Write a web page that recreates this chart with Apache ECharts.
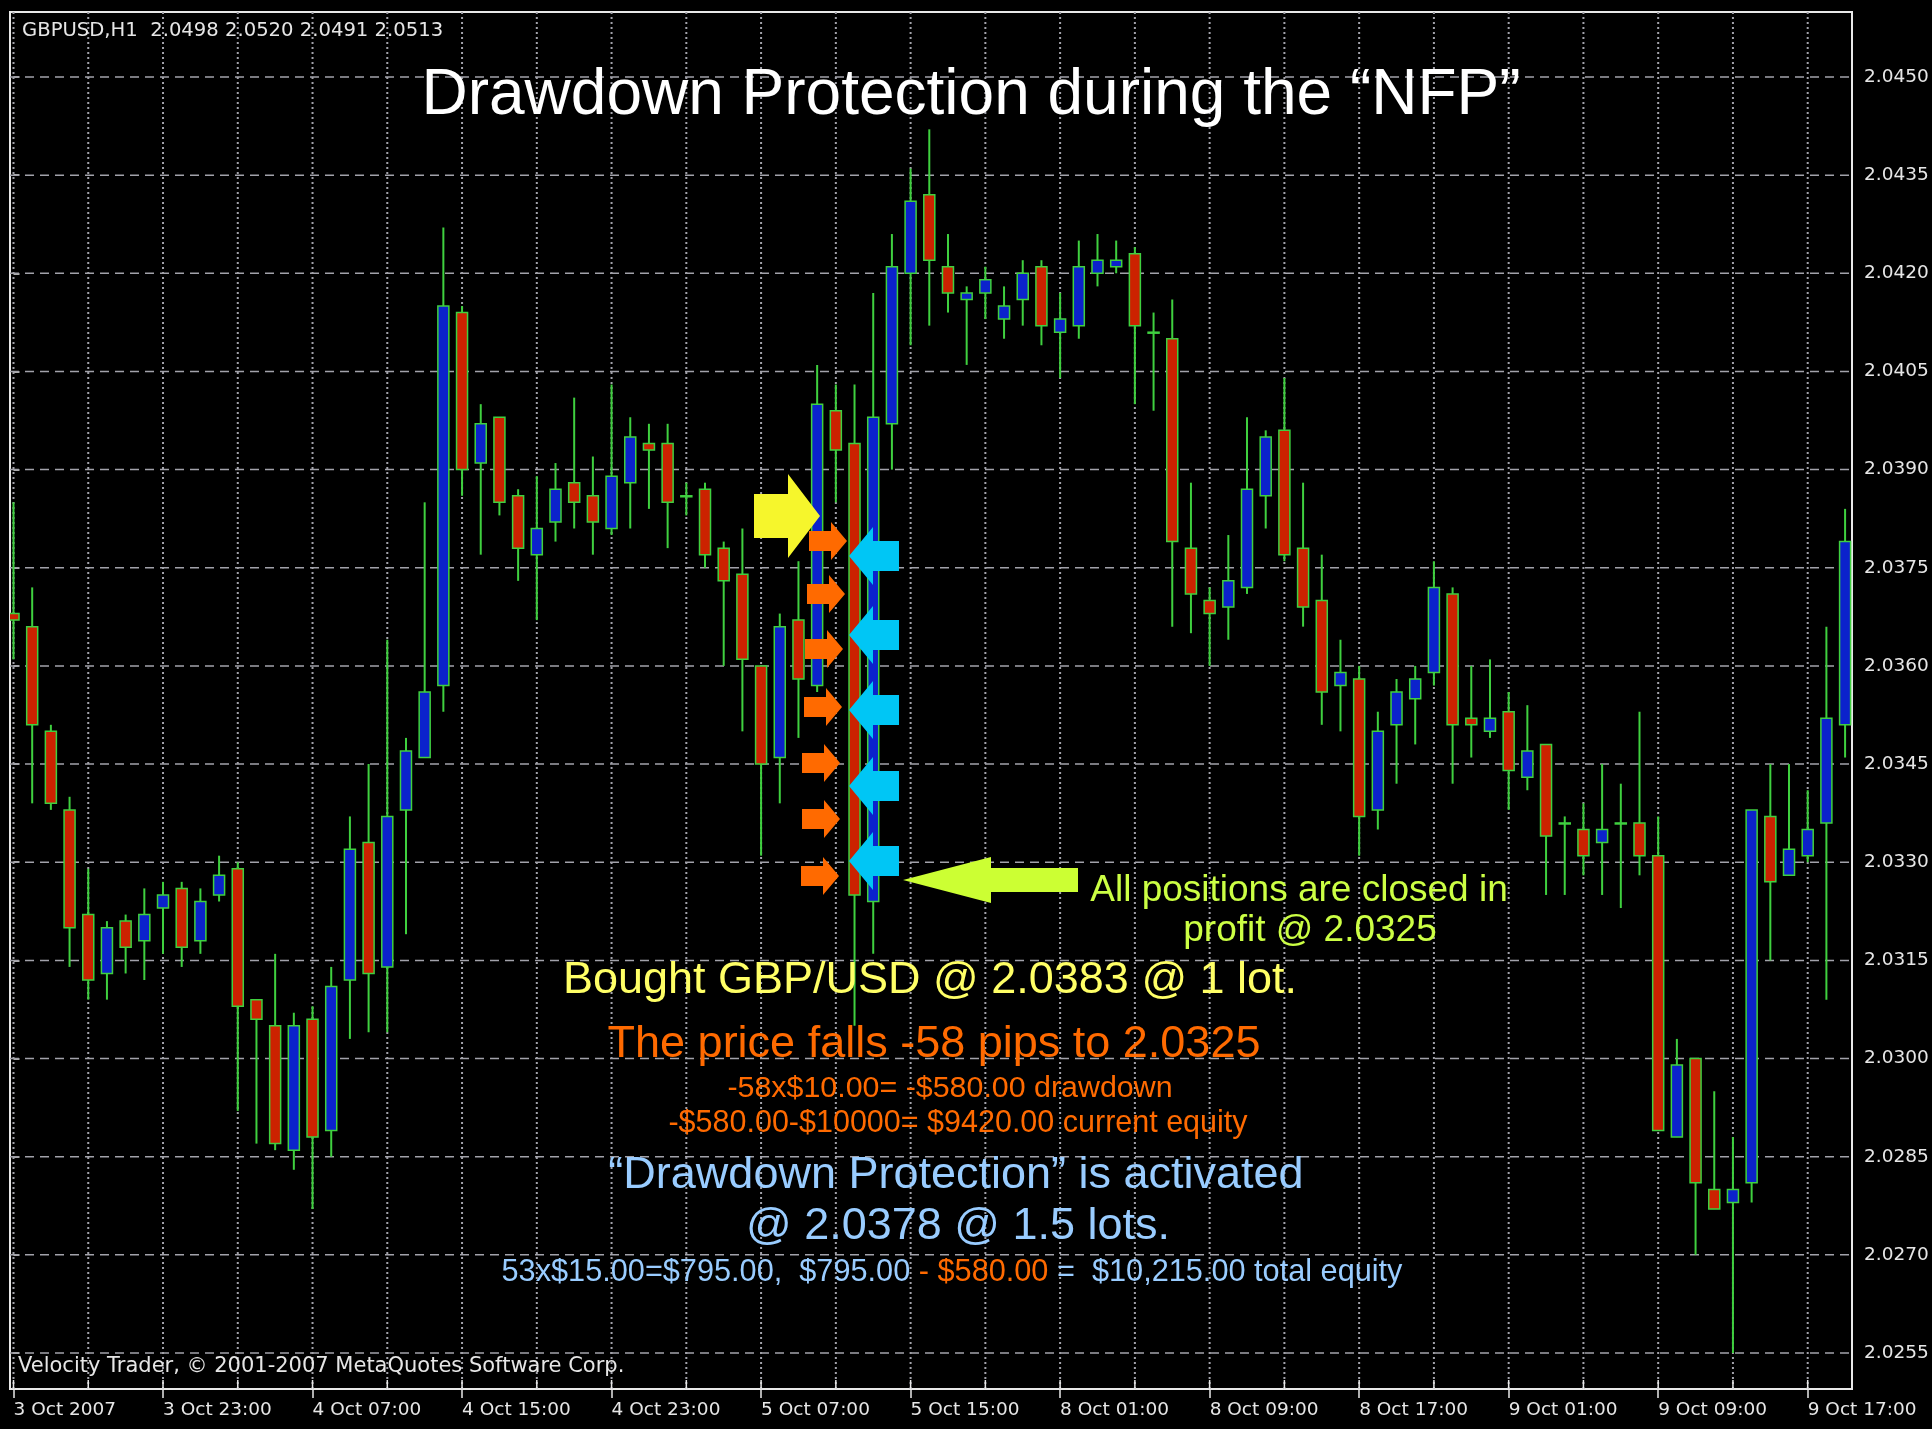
<!DOCTYPE html>
<html><head><meta charset="utf-8">
<script src="https://cdn.jsdelivr.net/npm/echarts@6/dist/echarts.min.js"></script>
<style>html,body{margin:0;padding:0;background:#000;}#c{width:1932px;height:1429px;}</style>
</head><body><div id="c"></div>
<script>
// GBPUSD H1 candles, 3 Oct 2007 15:00 onward
const opens  = [2.0368,2.0366,2.0350,2.0338,2.0322,2.0313,2.0321,2.0318,2.0323,2.0326,
                2.0318,2.0325,2.0329,2.0309,2.0305,2.0286,2.0306,2.0289,2.0312,2.0333,
                2.0314,2.0338,2.0346,2.0357,2.0414,2.0391,2.0398,2.0386,2.0377,2.0382,
                2.0388,2.0386,2.0381,2.0388,2.0394,2.0394,2.0386,2.0387,2.0378,2.0374,
                2.0360,2.0346,2.0367,2.0357,2.0399,2.0394,2.0324,2.0397,2.0420,2.0432,
                2.0421,2.0416,2.0417,2.0413,2.0416,2.0421,2.0411,2.0412,2.0420,2.0421,
                2.0423,2.0411,2.0410,2.0378,2.0370,2.0369,2.0372,2.0386,2.0396,2.0378,
                2.0370,2.0357,2.0358,2.0338,2.0351,2.0355,2.0359,2.0371,2.0352,2.0350,
                2.0353,2.0343,2.0348,2.0336,2.0335,2.0333,2.0336,2.0336,2.0331,2.0288,
                2.0300,2.0280,2.0278,2.0281,2.0337,2.0328,2.0331,2.0336,2.0351];
const highs  = [2.0385,2.0372,2.0351,2.0340,2.0329,2.0321,2.0322,2.0326,2.0327,2.0327,
                2.0326,2.0331,2.0330,2.0309,2.0316,2.0307,2.0308,2.0314,2.0337,2.0345,
                2.0364,2.0349,2.0385,2.0427,2.0415,2.0400,2.0398,2.0387,2.0389,2.0391,
                2.0401,2.0392,2.0403,2.0398,2.0397,2.0397,2.0388,2.0388,2.0379,2.0381,
                2.0360,2.0368,2.0376,2.0406,2.0403,2.0403,2.0417,2.0426,2.0436,2.0442,
                2.0426,2.0418,2.0421,2.0418,2.0422,2.0422,2.0417,2.0425,2.0426,2.0425,
                2.0424,2.0414,2.0416,2.0388,2.0372,2.0380,2.0398,2.0396,2.0404,2.0388,
                2.0377,2.0364,2.0360,2.0353,2.0358,2.0360,2.0376,2.0372,2.0360,2.0361,
                2.0356,2.0354,2.0348,2.0337,2.0339,2.0345,2.0342,2.0353,2.0337,2.0303,
                2.0300,2.0295,2.0288,2.0338,2.0345,2.0345,2.0341,2.0366,2.0384];
const lows   = [2.0361,2.0339,2.0338,2.0314,2.0309,2.0309,2.0313,2.0312,2.0316,2.0314,
                2.0316,2.0324,2.0292,2.0287,2.0286,2.0283,2.0277,2.0285,2.0303,2.0304,
                2.0304,2.0319,2.0346,2.0353,2.0386,2.0377,2.0383,2.0373,2.0367,2.0379,
                2.0381,2.0377,2.0380,2.0381,2.0384,2.0378,2.0383,2.0375,2.0360,2.0350,
                2.0331,2.0339,2.0349,2.0356,2.0385,2.0305,2.0316,2.0390,2.0409,2.0412,
                2.0414,2.0406,2.0413,2.0410,2.0412,2.0409,2.0404,2.0410,2.0418,2.0420,
                2.0400,2.0399,2.0366,2.0365,2.0360,2.0364,2.0371,2.0381,2.0376,2.0366,
                2.0351,2.0350,2.0331,2.0335,2.0342,2.0348,2.0357,2.0342,2.0346,2.0349,
                2.0338,2.0341,2.0325,2.0325,2.0328,2.0325,2.0323,2.0328,2.0289,2.0288,
                2.0270,2.0277,2.0255,2.0278,2.0315,2.0328,2.0330,2.0309,2.0346];
const closes = [2.0367,2.0351,2.0339,2.0320,2.0312,2.0320,2.0317,2.0322,2.0325,2.0317,
                2.0324,2.0328,2.0308,2.0306,2.0287,2.0305,2.0288,2.0311,2.0332,2.0313,
                2.0337,2.0347,2.0356,2.0415,2.0390,2.0397,2.0385,2.0378,2.0381,2.0387,
                2.0385,2.0382,2.0389,2.0395,2.0393,2.0385,2.0386,2.0377,2.0373,2.0361,
                2.0345,2.0366,2.0358,2.0400,2.0393,2.0325,2.0398,2.0421,2.0431,2.0422,
                2.0417,2.0417,2.0419,2.0415,2.0420,2.0412,2.0413,2.0421,2.0422,2.0422,
                2.0412,2.0411,2.0379,2.0371,2.0368,2.0373,2.0387,2.0395,2.0377,2.0369,
                2.0356,2.0359,2.0337,2.0350,2.0356,2.0358,2.0372,2.0351,2.0351,2.0352,
                2.0344,2.0347,2.0334,2.0336,2.0331,2.0335,2.0336,2.0331,2.0289,2.0299,
                2.0281,2.0277,2.0280,2.0338,2.0327,2.0332,2.0335,2.0352,2.0379];

// time-axis tick labels (one every 8 bars)
const xTickLabels = ['3 Oct 2007','3 Oct 23:00','4 Oct 07:00','4 Oct 15:00','4 Oct 23:00',
                     '5 Oct 07:00','5 Oct 15:00','8 Oct 01:00','8 Oct 09:00','8 Oct 17:00',
                     '9 Oct 01:00','9 Oct 09:00','9 Oct 17:00'];
const barsPerLabel = 8;
const barsPerGridLine = 4;
// price-axis tick labels
const yTicks = [2.0255,2.0270,2.0285,2.0300,2.0315,2.0330,2.0345,2.0360,2.0375,2.0390,2.0405,2.0420,2.0435,2.0450];

const candleData = opens.map((o, i) => [i, o, closes[i], lows[i], highs[i]]);
const xTickValues = xTickLabels.map((_, k) => k * barsPerLabel);
const vGridData = [];
for (let v = 0; v < opens.length; v += barsPerGridLine) vGridData.push([v, yTicks[0]]);
const hGridData = yTicks.map(v => [0, v]);

const MT = '"DejaVu Sans", sans-serif';
const HV = '"Liberation Sans", Arial, sans-serif';
const GREEN = '#3fd03f';
const GRIDC = '#a2a2aa';

function arrow(tipX, tipY, dir, total, head, bh, hh, fill) {
  const base = tipX - dir * head, tail = tipX - dir * total;
  return {type: 'polygon', z: 50, silent: true,
    shape: {points: [[tail, tipY - bh], [base, tipY - bh], [base, tipY - hh], [tipX, tipY],
                     [base, tipY + hh], [base, tipY + bh], [tail, tipY + bh]]},
    style: {fill: fill}};
}
function txt(x, y, text, color, font, align) {
  return {type: 'text', z: 60, silent: true, x: x, y: y,
    style: {text: text, fill: color, font: font, align: align || 'center', verticalAlign: 'middle'}};
}

const graphics = [];
graphics.push(arrow(820, 516, 1, 66, 32, 22, 42, '#f6f62c'));
const oTipX = [847, 845, 843, 842, 840, 840, 839];
const oTipY = [541, 594, 649, 707, 763, 819, 876];
oTipX.forEach((x, k) => graphics.push(arrow(x, oTipY[k], 1, 38, 16, 10, 19, '#ff6a00')));
[556, 635, 710, 786, 861].forEach(y => graphics.push(arrow(849, y, -1, 50, 24, 15, 29, '#00c6f5')));
graphics.push(arrow(903, 880, -1, 175, 88, 12, 23, '#ccff33'));

const dy = 4;
graphics.push(txt(22, 31, 'GBPUSD,H1  2.0498 2.0520 2.0491 2.0513', '#e6e6e6', '19.6px ' + MT, 'left'));
graphics.push(txt(18, 1367, 'Velocity Trader, \u00a9 2001-2007 MetaQuotes Software Corp.', '#e6e6e6', '21px ' + MT, 'left'));
graphics.push(txt(971, 92 + dy, 'Drawdown Protection during the \u201cNFP\u201d', '#ffffff', '64px ' + HV));
graphics.push(txt(1299, 887 + dy, 'All positions are closed in', '#ccff44', '37px ' + HV));
graphics.push(txt(1310, 927 + dy, 'profit @ 2.0325', '#ccff44', '37px ' + HV));
graphics.push(txt(930, 977 + dy, 'Bought GBP/USD @ 2.0383 @ 1 lot.', '#ffff66', '45px ' + HV));
graphics.push(txt(934, 1041 + dy, 'The price falls -58 pips to 2.0325', '#ff6a00', '45px ' + HV));
graphics.push(txt(950, 1085 + dy, '-58x$10.00= -$580.00 drawdown', '#ff6a00', '30.4px ' + HV));
graphics.push(txt(958, 1120 + dy, '-$580.00-$10000= $9420.00 current equity', '#ff6a00', '30.5px ' + HV));
graphics.push(txt(956, 1172 + dy, '\u201cDrawdown Protection\u201d is activated', '#99ccff', '45px ' + HV));
graphics.push(txt(958, 1223 + dy, '@ 2.0378 @ 1.5 lots.', '#99ccff', '45px ' + HV));
graphics.push({type: 'text', z: 60, silent: true, x: 952, y: 1269 + dy,
  style: {text: '{b|53x$15.00=$795.00,  $795.00}{o| - $580.00}{b| =  $10,215.00 total equity}',
    align: 'center', verticalAlign: 'middle', font: '30.7px ' + HV, fill: '#99ccff',
    rich: {b: {fill: '#99ccff', font: '30.7px ' + HV}, o: {fill: '#ff6a00', font: '30.7px ' + HV}}}});

const chart = echarts.init(document.getElementById('c'), null, {renderer: 'canvas'});
chart.setOption({
  backgroundColor: '#000000',
  animation: false,
  grid: {left: 10, top: 12, right: 80, bottom: 40, show: true, borderColor: '#e8e8e8', borderWidth: 2, backgroundColor: '#000'},
  xAxis: {
    type: 'value', min: -0.187, max: 98.37,
    axisLine: {show: false},
    splitLine: {show: false},
    axisTick: {show: true, customValues: xTickValues, length: 9, lineStyle: {color: '#e8e8e8', width: 1.5}},
    axisLabel: {show: true, customValues: xTickValues, color: '#e6e6e6', fontFamily: 'DejaVu Sans', fontSize: 18.5,
      align: 'left', margin: 12, formatter: v => xTickLabels[Math.round(v / barsPerLabel)]}
  },
  yAxis: {
    type: 'value', position: 'right', min: 2.02495, max: 2.045993,
    axisLine: {show: false},
    splitLine: {show: false},
    axisTick: {show: true, customValues: yTicks, length: 6, lineStyle: {color: '#e8e8e8', width: 1.5}},
    axisLabel: {show: true, customValues: yTicks, color: '#e6e6e6', fontFamily: 'DejaVu Sans', fontSize: 18.5,
      margin: 12, formatter: v => v.toFixed(4)}
  },
  graphic: graphics,
  series: [
    {type: 'custom', z: 1, silent: true, clip: true, data: hGridData,
     renderItem: function (params, api) {
       const p = api.coord([api.value(0), api.value(1)]);
       const cs = params.coordSys;
       return {type: 'line', shape: {x1: cs.x, y1: p[1], x2: cs.x + cs.width, y2: p[1]},
         style: {stroke: GRIDC, lineWidth: 1.5, lineDash: [9, 6]}};
     }},
    {type: 'custom', z: 1, silent: true, clip: true, data: vGridData,
     renderItem: function (params, api) {
       const p = api.coord([api.value(0), api.value(1)]);
       const cs = params.coordSys;
       const yb = cs.y + cs.height;
       return {type: 'group', children: [
         {type: 'line', shape: {x1: p[0], y1: cs.y, x2: p[0], y2: yb},
          style: {stroke: GRIDC, lineWidth: 2, lineDash: [2, 3]}},
         {type: 'line', shape: {x1: p[0], y1: yb - 9, x2: p[0], y2: yb},
          style: {stroke: '#e8e8e8', lineWidth: 1.5}}
       ]};
     }},
    {type: 'custom', z: 5, clip: true, data: candleData,
     renderItem: function (params, api) {
       const x = api.value(0), o = api.value(1), c = api.value(2), l = api.value(3), h = api.value(4);
       const pO = api.coord([x, o]), pC = api.coord([x, c]), pL = api.coord([x, l]), pH = api.coord([x, h]);
       const w = 11;
       const top = Math.min(pO[1], pC[1]), bot = Math.max(pO[1], pC[1]);
       const bull = c >= o;
       return {type: 'group', children: [
         {type: 'line', shape: {x1: pH[0], y1: pH[1], x2: pL[0], y2: pL[1]}, style: {stroke: GREEN, lineWidth: 2}},
         {type: 'rect', shape: {x: pO[0] - w / 2, y: top, width: w, height: Math.max(bot - top, 1)},
          style: {fill: bull ? '#0b22cc' : '#cc2200', stroke: GREEN, lineWidth: 1.5}}
       ]};
     }}
  ]
});
</script></body></html>
